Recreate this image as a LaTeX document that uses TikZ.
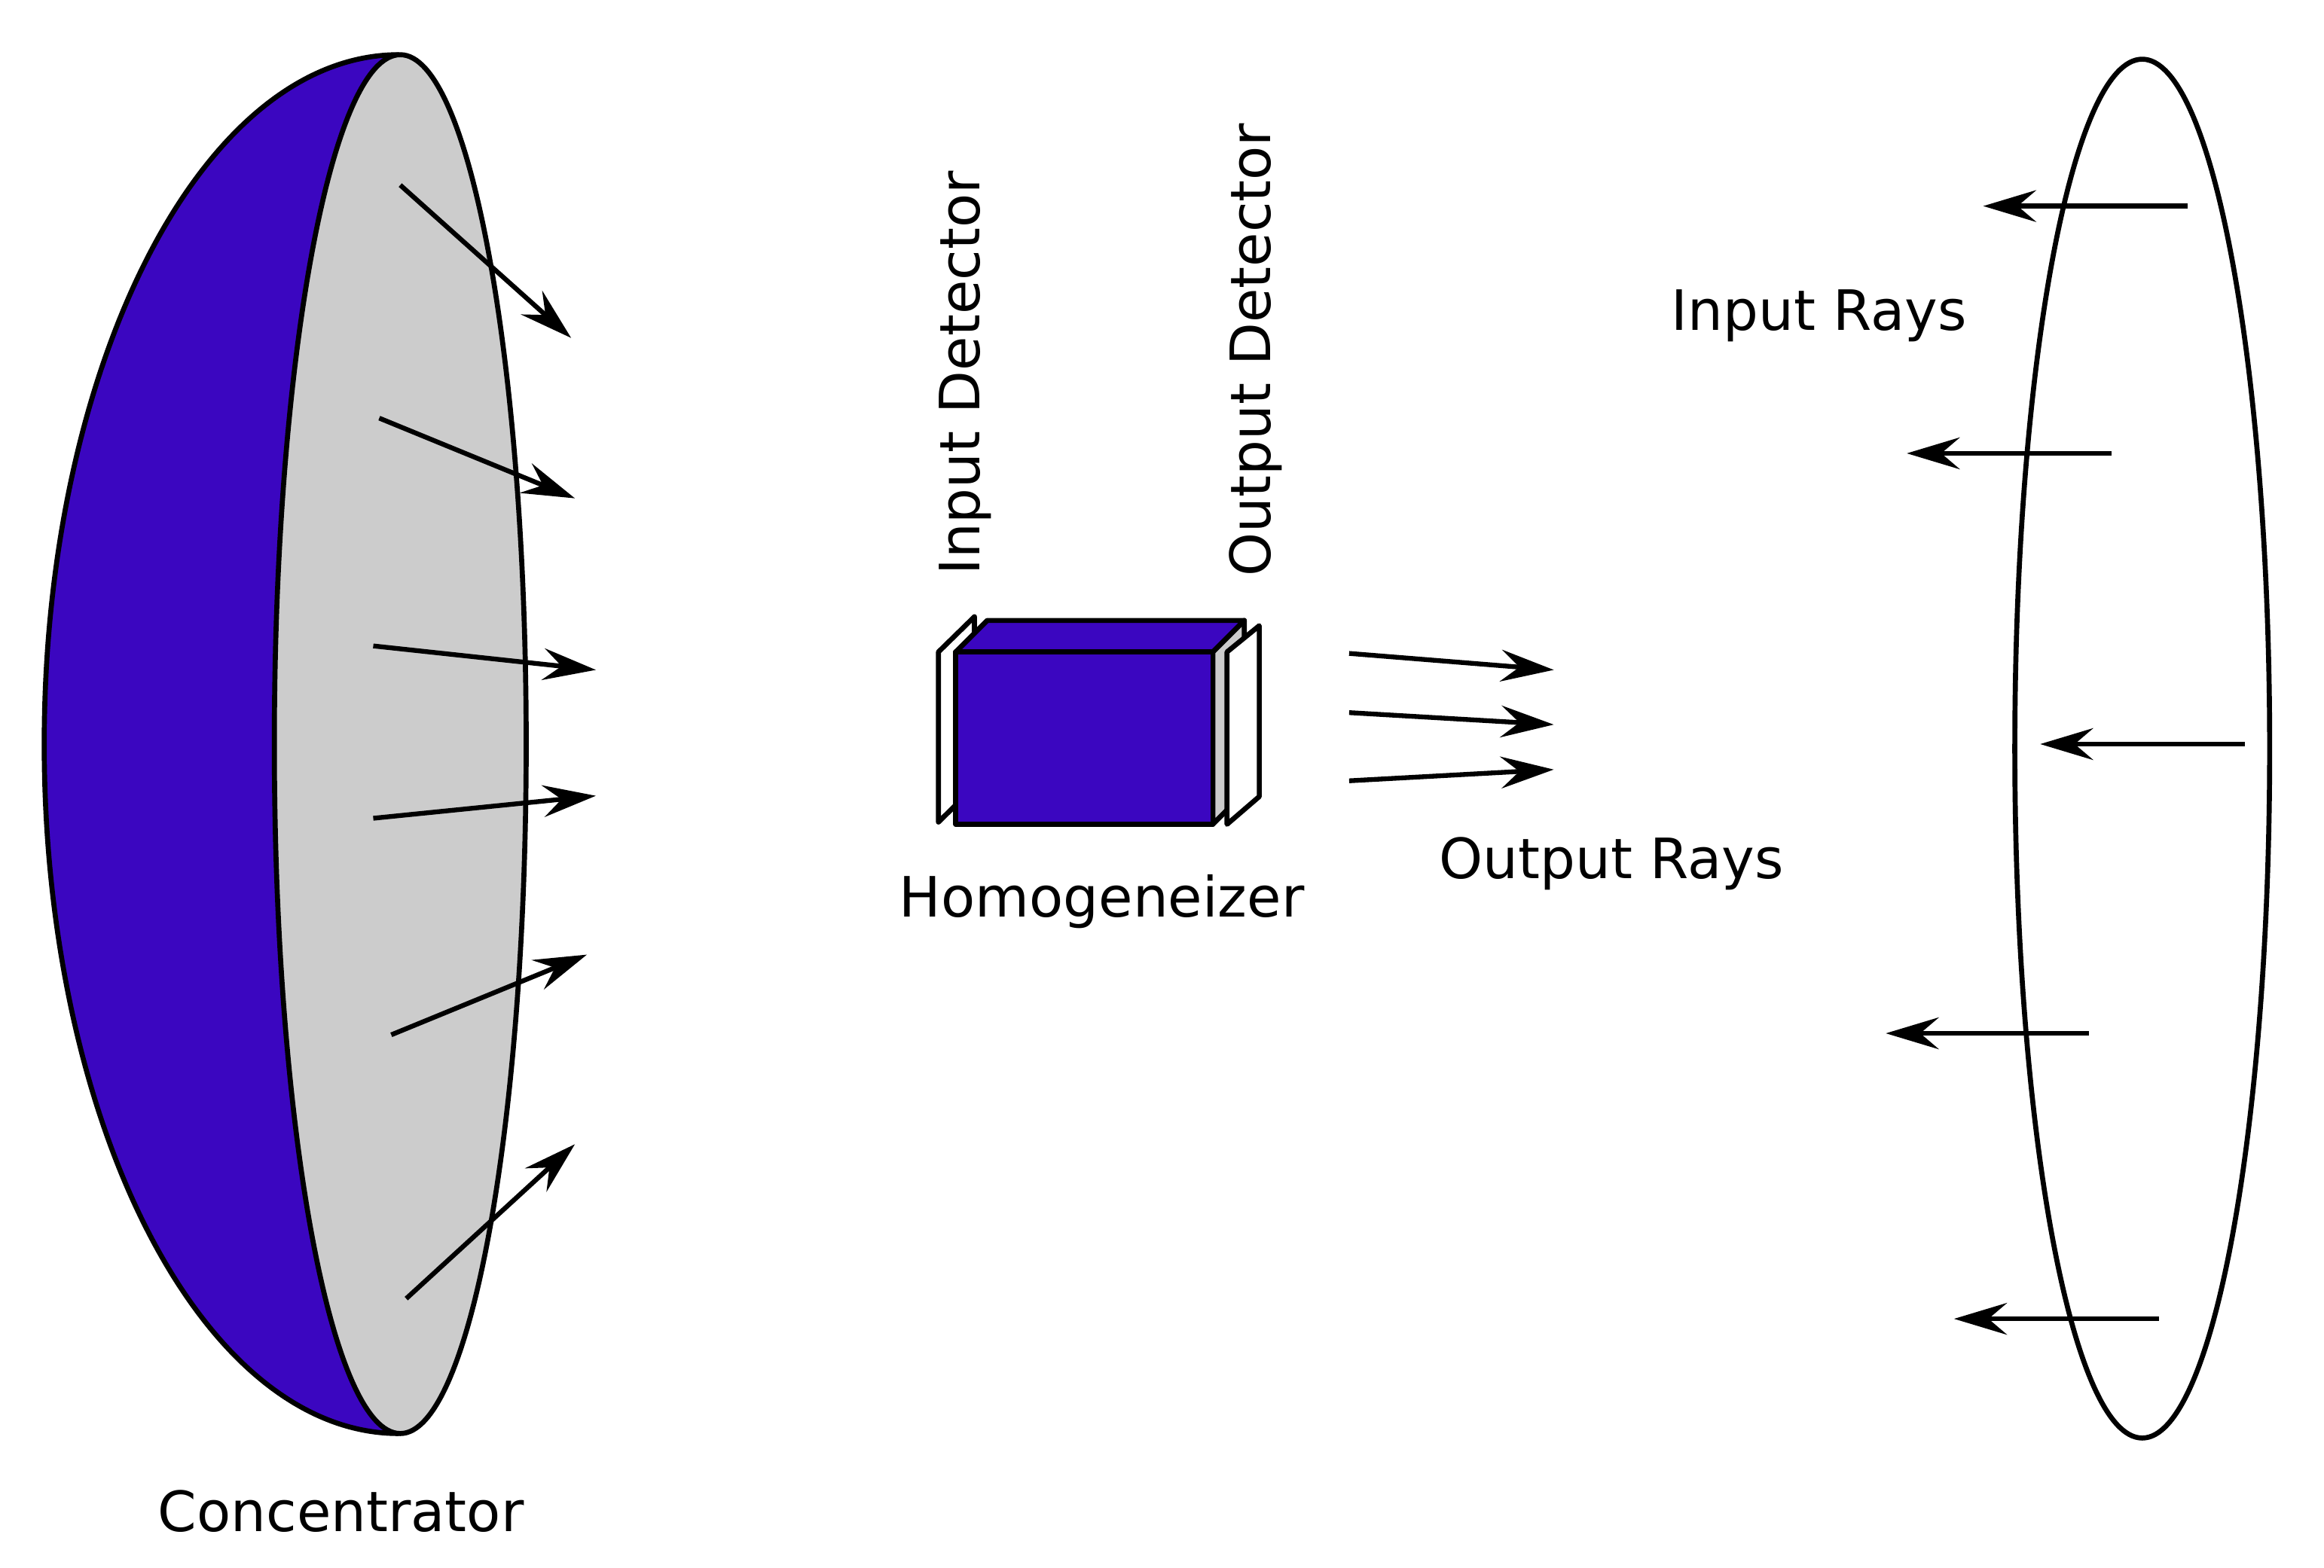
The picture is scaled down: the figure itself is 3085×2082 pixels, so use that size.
\documentclass[tikz,border=0pt]{standalone}
\usepackage{fontspec}
\setmainfont{DejaVu Sans}
\usetikzlibrary{arrows.meta}
\definecolor{myblue}{RGB}{59,6,192}
\definecolor{mygray}{RGB}{204,204,204}
\begin{document}
\begin{tikzpicture}[x=0.01cm,y=-0.01cm,line join=round,
  ray/.style={line width=1.8pt,-{Stealth[length=20pt,width=12pt,inset=7pt]}},
  lbl/.style={font=\fontsize{21}{25}\selectfont,inner sep=0pt},
  edge/.style={line width=1.9pt}]
\useasboundingbox (0,0) rectangle (3085,2082);
\begin{scope}[scale=0.995]
% concentrator
\draw[edge,fill=myblue] (532,73) arc[start angle=-90,end angle=-270,x radius=473,y radius=920];
\draw[edge,fill=mygray] (534,993) ellipse[x radius=168,y radius=920];
\coordinate (c1s) at (534,247); \coordinate (c1e) at (762,451);
\coordinate (c2s) at (506,558); \coordinate (c2e) at (767,665);
\coordinate (c3s) at (498,862); \coordinate (c3e) at (795,894);
\coordinate (c4s) at (498,1092); \coordinate (c4e) at (795,1062);
\coordinate (c5s) at (522,1381); \coordinate (c5e) at (783,1274);
\coordinate (c6s) at (542,1733); \coordinate (c6e) at (767,1527);
\foreach \i in {1,...,6} \draw[ray] (c\i s) -- (c\i e);
\node[lbl] (conc) at (455,2017) {Concentrator};
% homogenizer
\draw[edge,fill=white] (1252,870) -- (1300,823) -- (1300,1050) -- (1252,1097) -- cycle;
\draw[edge,fill=mygray] (1618,870) -- (1660,828) -- (1660,1058) -- (1618,1100) -- cycle;
\draw[edge,fill=myblue] (1275,870) -- (1317,828) -- (1660,828) -- (1618,870) -- cycle;
\draw[edge,fill=myblue] (1275,870) rectangle (1618,1100);
\draw[edge,fill=white] (1637,870) -- (1680,835) -- (1680,1063) -- (1637,1100) -- cycle;
\node[lbl] (homo) at (1470,1203) {Homogeneizer};
\node[lbl,rotate=90] (indet) at (1288,498) {Input Detector};
\node[lbl,rotate=90] (outdet) at (1675,467) {Output Detector};
% output rays
\coordinate (o1s) at (1800,872); \coordinate (o1e) at (2073,894);
\coordinate (o2s) at (1800,951); \coordinate (o2e) at (2073,967);
\coordinate (o3s) at (1800,1042); \coordinate (o3e) at (2073,1027);
\foreach \i in {1,2,3} \draw[ray] (o\i s) -- (o\i e);
\node[lbl] (outrays) at (2150,1153) {Output Rays};
% input disc
\draw[edge] (2858,999) ellipse[x radius=170,y radius=920];
\coordinate (i1s) at (2919,275); \coordinate (i1e) at (2646,275);
\coordinate (i2s) at (2817,605); \coordinate (i2e) at (2544,605);
\coordinate (i3s) at (2995,993); \coordinate (i3e) at (2722,993);
\coordinate (i4s) at (2787,1379); \coordinate (i4e) at (2516,1379);
\coordinate (i5s) at (2880,1760); \coordinate (i5e) at (2607,1760);
\foreach \i in {1,...,5} \draw[ray] (i\i s) -- (i\i e);
\node[lbl] (inrays) at (2427,421) {Input Rays};
\end{scope}
\end{tikzpicture}
\end{document}
